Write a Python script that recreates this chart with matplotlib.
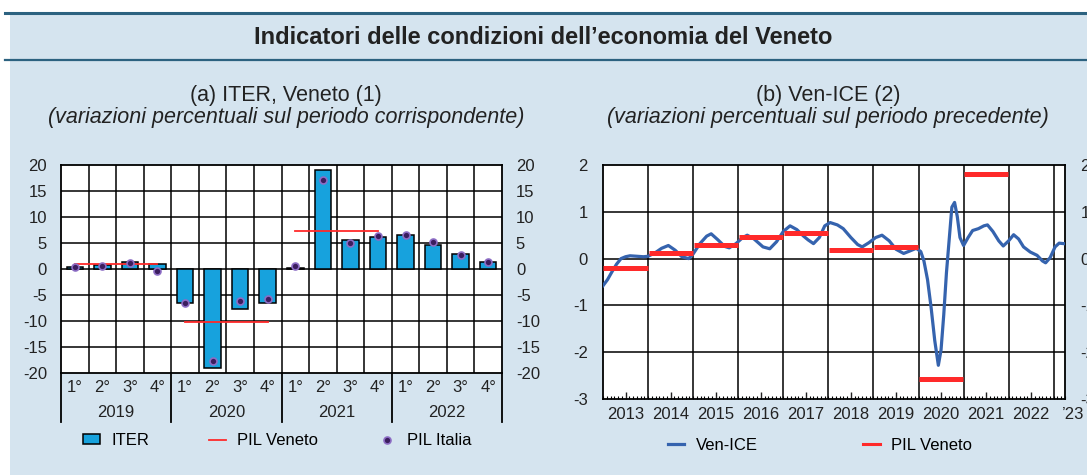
import numpy as np
import matplotlib
matplotlib.use('Agg')
import matplotlib.pyplot as plt
from matplotlib.patches import Rectangle
from matplotlib.lines import Line2D
from matplotlib.ticker import MultipleLocator

plt.rcParams['font.family'] = ['Liberation Sans', 'DejaVu Sans']
plt.rcParams['axes.unicode_minus'] = False

# ---- data: panel (a) ITER, quarterly ----
quarter_labels = ['1°', '2°', '3°', '4°'] * 4
year_labels = ['2019', '2020', '2021', '2022']
iter_vals = [0.3, 0.8, 1.3, 1.0, -6.6, -19.0, -7.7, -6.6, 0.2, 19.0, 5.5, 6.2, 6.5, 4.7, 2.8, 1.4]
pil_italia = [0.4, 0.6, 1.2, -0.4, -6.5, -17.6, -6.1, -5.7, 0.5, 17.2, 5.0, 6.4, 6.6, 5.2, 2.6, 1.4]
pil_veneto_annual = [1.0, -10.1, 7.3]   # 2019, 2020, 2021

# ---- data: panel (b) Ven-ICE ----
ven_ice_t = [2013.00, 2013.10, 2013.20, 2013.30, 2013.40, 2013.50, 2013.60, 2013.75, 2013.90,
             2014.00, 2014.15, 2014.30, 2014.45, 2014.60, 2014.75, 2014.90,
             2015.00, 2015.15, 2015.30, 2015.40, 2015.55, 2015.70, 2015.80, 2015.95,
             2016.10, 2016.20, 2016.35, 2016.55, 2016.70, 2016.85,
             2017.00, 2017.15, 2017.30, 2017.45, 2017.55, 2017.67, 2017.80, 2017.92,
             2018.04, 2018.20, 2018.33, 2018.50, 2018.65, 2018.75, 2018.90,
             2019.05, 2019.19, 2019.35, 2019.50, 2019.67, 2019.80, 2019.95,
             2020.05, 2020.12, 2020.20, 2020.28, 2020.36, 2020.44, 2020.50, 2020.56,
             2020.62, 2020.68, 2020.74, 2020.80, 2020.86, 2020.92,
             2021.00, 2021.10, 2021.20, 2021.33, 2021.45, 2021.53, 2021.65, 2021.78, 2021.88,
             2022.00, 2022.11, 2022.22, 2022.33, 2022.48, 2022.63, 2022.75, 2022.82, 2022.92,
             2023.03, 2023.12, 2023.22]
ven_ice_v = [-0.58, -0.45, -0.28, -0.12, 0.00, 0.04, 0.06, 0.05, 0.04,
             0.05, 0.12, 0.22, 0.28, 0.18, 0.04, 0.00,
             0.10, 0.32, 0.48, 0.53, 0.40, 0.26, 0.23, 0.32,
             0.45, 0.50, 0.42, 0.25, 0.21, 0.36,
             0.58, 0.70, 0.62, 0.48, 0.40, 0.32, 0.45, 0.70,
             0.77, 0.72, 0.64, 0.45, 0.30, 0.25, 0.34,
             0.45, 0.50, 0.38, 0.20, 0.11, 0.16, 0.22,
             0.15, -0.05, -0.45, -1.05, -1.75, -2.28, -1.95, -1.20,
             -0.30, 0.40, 1.10, 1.20, 0.90, 0.45,
             0.28, 0.45, 0.60, 0.64, 0.70, 0.72, 0.58, 0.38, 0.27,
             0.38, 0.51, 0.42, 0.25, 0.14, 0.07, -0.05, -0.09, 0.02,
             0.25, 0.33, 0.32]
pil_years = [2013, 2014, 2015, 2016, 2017, 2018, 2019, 2020, 2021]
pil_veneto_q = [-0.21, 0.11, 0.28, 0.46, 0.55, 0.18, 0.25, -2.57, 1.81]
panel_b_years = ['2013', '2014', '2015', '2016', '2017', '2018', '2019', '2020', '2021', '2022']

BG = '#d5e4ef'
BAR = '#17a2dd'
RED = '#ff2a2a'
BLUE = '#3563ae'
PURPLE = '#3b1d5e'
TXT = '#222222'
FS = 12

W, H = 1087, 475
fig = plt.figure(figsize=(W / 100, H / 100), dpi=100)
fig.patch.set_facecolor('white')


def px_axes(x0, y0, x1, y1):
    return fig.add_axes([x0 / W, 1 - y1 / H, (x1 - x0) / W, (y1 - y0) / H])


# background panel and title band
fig.add_artist(Rectangle((10 / W, 0), 1, 1 - 12 / H, transform=fig.transFigure,
                         facecolor=BG, edgecolor='none', zorder=-10))
fig.add_artist(Line2D([5 / W, 1], [1 - 12.5 / H] * 2, transform=fig.transFigure,
                      color='#2c6280', lw=2.2))
fig.add_artist(Line2D([5 / W, 1], [1 - 60 / H] * 2, transform=fig.transFigure,
                      color='#2c6280', lw=1.6))
fig.text(543 / W, 1 - 37 / H, 'Indicatori delle condizioni dell\u2019economia del Veneto',
         ha='center', va='center', fontsize=17, fontweight='bold', color=TXT)

# ---------------- panel (a) ----------------
ax = px_axes(61, 165, 502, 373)
x = np.arange(len(iter_vals))
ax.set_xlim(-0.5, len(iter_vals) - 0.5)
ax.set_ylim(-20, 20)
for yv in range(-15, 20, 5):
    ax.axhline(yv, color='black', lw=1.1, zorder=1)
for xv in np.arange(0.5, len(iter_vals) - 0.5, 1):
    ax.axvline(xv, color='black', lw=1.1, zorder=1)
bars = ax.bar(x, iter_vals, width=0.6, color=BAR, edgecolor='black', lw=1.1, zorder=3,
              label='ITER')
for i, v in enumerate(pil_veneto_annual):
    vline, = ax.plot([4 * i, 4 * i + 3], [v, v], color=RED, lw=1.3, zorder=4)
vline.set_label('PIL Veneto')
dots, = ax.plot(x, pil_italia, 'o', ms=5, color=PURPLE, mec='#8c6cc4', mew=1.2,
                zorder=5, ls='none', label='PIL Italia')
ax.set_xticks(x)
ax.set_xticklabels(quarter_labels)
ax.set_yticks(range(-20, 25, 5))
ax.tick_params(axis='x', length=0, pad=5, labelsize=FS, colors=TXT)
ax.tick_params(axis='y', length=0, pad=10, labelsize=FS, colors=TXT,
               labelleft=True, labelright=True)
for s in ax.spines.values():
    s.set_linewidth(1.3)
for k, yl in enumerate(year_labels):
    ax.text(4 * k + 1.5, -0.19, yl, transform=ax.get_xaxis_transform(),
            ha='center', va='center', fontsize=FS, color=TXT)
for xb in np.arange(-0.5, len(iter_vals), 4):
    ax.plot([xb, xb], [0, -0.236], transform=ax.get_xaxis_transform(),
            color='black', lw=1.3, clip_on=False)
fig.text(286 / W, 1 - 95 / H, '(a) ITER, Veneto (1)', ha='center', va='center',
         fontsize=15.5, color=TXT)
fig.text(286 / W, 1 - 118 / H, '(variazioni percentuali sul periodo corrispondente)',
         ha='center', va='center', fontsize=15.5, style='italic', color=TXT)
ax.legend(handles=[bars, vline, dots], loc='center', bbox_to_anchor=(0.49, -0.325),
          ncol=3, frameon=False, fontsize=FS, handlelength=1.0, handletextpad=0.7,
          columnspacing=3.6, handleheight=0.5)

# ---------------- panel (b) ----------------
bx = px_axes(603, 165, 1065, 399)
bx.set_xlim(2013, 2023.25)
bx.set_ylim(-3, 2)
for yv in range(-2, 2):
    bx.axhline(yv, color='black', lw=1.1, zorder=1)
for xv in range(2014, 2024):
    bx.axvline(xv, color='black', lw=1.1, zorder=1)
ice_line, = bx.plot(ven_ice_t, ven_ice_v, color=BLUE, lw=2.3, zorder=3, label='Ven-ICE')
for yr, v in zip(pil_years, pil_veneto_q):
    bx.plot([yr + 0.01, yr + 0.99], [v, v], color=RED, lw=3.6, zorder=4,
            solid_capstyle='butt')
pl_handle = Line2D([], [], color=RED, lw=2.2, label='PIL Veneto')
bx.set_xticks(np.arange(2013.5, 2023, 1))
bx.set_xticklabels(panel_b_years)
bx.xaxis.set_minor_locator(MultipleLocator(1 / 12))
bx.tick_params(axis='x', which='major', direction='in', length=5, width=1, pad=6,
               labelsize=FS, colors=TXT)
bx.tick_params(axis='x', which='minor', direction='in', length=2.5, width=0.8)
bx.text(2023.42, -0.068, '\u201923', transform=bx.get_xaxis_transform(), ha='center',
        va='center', fontsize=FS, color=TXT, clip_on=False)
bx.set_yticks(range(-3, 3))
bx.tick_params(axis='y', length=0, pad=11, labelsize=FS, colors=TXT,
               labelleft=True, labelright=True)
for s in bx.spines.values():
    s.set_linewidth(1.3)
fig.text(828 / W, 1 - 95 / H, '(b) Ven-ICE (2)', ha='center', va='center',
         fontsize=15.5, color=TXT)
fig.text(828 / W, 1 - 118 / H, '(variazioni percentuali sul periodo precedente)',
         ha='center', va='center', fontsize=15.5, style='italic', color=TXT)
bx.legend(handles=[ice_line, pl_handle], loc='center', bbox_to_anchor=(0.47, -0.2),
          ncol=2, frameon=False, fontsize=FS, handlelength=1.0, handletextpad=0.7,
          columnspacing=6.3)

fig.savefig('out.png', dpi=100, facecolor=fig.get_facecolor())
